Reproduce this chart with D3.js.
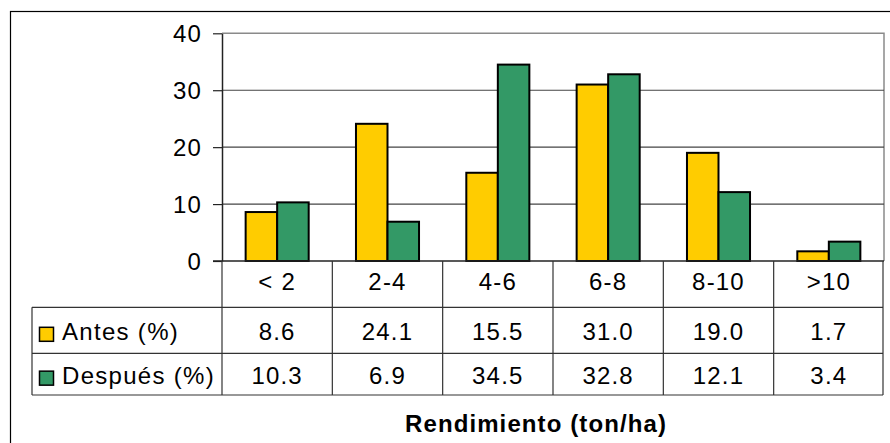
<!DOCTYPE html>
<html>
<head>
<meta charset="utf-8">
<script src="https://cdn.jsdelivr.net/npm/d3@7"></script>
<style>
  body { margin: 0; background: #fff; }
  svg text { font-family: Arial, "Liberation Sans", sans-serif; fill: #000; }
</style>
</head>
<body>
<div id="chart-area"></div>
<script>
var categories = ['< 2', '2-4', '4-6', '6-8', '8-10', '>10'];
var antes = [8.6, 24.1, 15.5, 31.0, 19.0, 1.7];
var despues = [10.3, 6.9, 34.5, 32.8, 12.1, 3.4];
var seriesNames = ['Antes (%)', 'Después (%)'];
var seriesColors = ['#FFCC00', '#339966'];
var yTicks = [0, 10, 20, 30, 40];
var xTitle = 'Rendimiento (ton/ha)';

var W = 890, H = 443;
var plot = { left: 222, right: 884, top: 33.3, bottom: 261 };
var tableLeft = 32;
var rows = [261, 307.3, 353.3, 395]; // category row, antes row, despues row edges

var series = [
    { name: seriesNames[0], values: antes, color: seriesColors[0] },
    { name: seriesNames[1], values: despues, color: seriesColors[1] }
];

var svg = d3.select('#chart-area')
    .append('svg')
    .attr('width', W)
    .attr('height', H);

// outer chart frame (right/bottom edges fall outside the picture)
svg.append('rect')
    .attr('x', 10.5).attr('y', 11.5)
    .attr('width', 900).attr('height', 460)
    .attr('fill', 'none')
    .attr('stroke', '#000')
    .attr('stroke-width', 1.2);

var x = d3.scaleBand()
    .domain(categories)
    .range([plot.left, plot.right])
    .paddingInner(0)
    .paddingOuter(0);

var x1 = d3.scaleBand()
    .domain(d3.range(series.length))
    .range([0, x.bandwidth()])
    .paddingInner(0)
    .paddingOuter(0.75);

var y = d3.scaleLinear()
    .domain([0, 40])
    .range([plot.bottom, plot.top]);

// plot border (top/right gray)
svg.append('path')
    .attr('d', `M${plot.left},${plot.top}H${plot.right}V${plot.bottom}`)
    .attr('fill', 'none')
    .attr('stroke', '#8a8a8a')
    .attr('stroke-width', 1.5);

// gridlines
svg.append('g')
    .selectAll('line')
    .data(yTicks.filter(d => d > 0 && d < 40))
    .join('line')
    .attr('x1', plot.left).attr('x2', plot.right)
    .attr('y1', d => y(d)).attr('y2', d => y(d))
    .attr('stroke', '#444')
    .attr('stroke-width', 1.2);

var fs = '24px';
var ls = '1.2px';

// y axis
var yAxis = svg.append('g')
    .attr('transform', `translate(${plot.left},0)`)
    .call(d3.axisLeft(y).tickValues(yTicks).tickSize(9).tickPadding(11).tickSizeOuter(0));
yAxis.select('.domain').attr('stroke', '#222').attr('stroke-width', 1.5);
yAxis.selectAll('.tick line').attr('stroke', '#222').attr('stroke-width', 1.2);
yAxis.selectAll('.tick text')
    .attr('font-size', fs)
    .attr('letter-spacing', ls)
    .attr('font-family', 'Arial, "Liberation Sans", sans-serif')
    .attr('fill', '#000')
    .attr('dy', '0.35em');

// bars
var groups = svg.append('g')
    .selectAll('g')
    .data(series)
    .join('g')
    .attr('fill', d => d.color);

groups.selectAll('rect')
    .data((s, i) => s.values.map((v, j) => ({ v: v, cat: categories[j], si: i })))
    .join('rect')
    .attr('x', d => x(d.cat) + x1(d.si))
    .attr('y', d => y(d.v))
    .attr('width', x1.bandwidth())
    .attr('height', d => y(0) - y(d.v))
    .attr('stroke', '#000')
    .attr('stroke-width', 2);

// x axis baseline
svg.append('line')
    .attr('x1', plot.left - 9).attr('x2', plot.right)
    .attr('y1', plot.bottom).attr('y2', plot.bottom)
    .attr('stroke', '#222').attr('stroke-width', 1.5);

// data table
var table = svg.append('g');
var lineColor = '#333';

// horizontal table lines
table.selectAll('line.h')
    .data(rows.slice(1))
    .join('line')
    .attr('class', 'h')
    .attr('x1', tableLeft).attr('x2', plot.right - 1)
    .attr('y1', d => d).attr('y2', d => d)
    .attr('stroke', lineColor).attr('stroke-width', 1.2);

// vertical lines at category edges
var edges = categories.map(c => x(c)).concat([plot.right - 1]);
table.selectAll('line.v')
    .data(edges)
    .join('line')
    .attr('class', 'v')
    .attr('x1', d => d).attr('x2', d => d)
    .attr('y1', plot.bottom).attr('y2', rows[3])
    .attr('stroke', lineColor).attr('stroke-width', 1.2);

table.append('line')
    .attr('x1', tableLeft).attr('x2', tableLeft)
    .attr('y1', rows[1]).attr('y2', rows[3])
    .attr('stroke', lineColor).attr('stroke-width', 1.2);

// category labels
table.selectAll('text.cat')
    .data(categories)
    .join('text')
    .attr('class', 'cat')
    .attr('x', d => x(d) + x.bandwidth() / 2)
    .attr('y', (rows[0] + rows[1]) / 2)
    .attr('dy', '0.26em')
    .attr('text-anchor', 'middle')
    .attr('font-size', fs)
    .attr('letter-spacing', ls)
    .text(d => d);

// series rows
series.forEach((s, i) => {
    var cy = (rows[i + 1] + rows[i + 2]) / 2;

    table.append('rect')
        .attr('x', 39.5).attr('y', cy - 3)
        .attr('width', 14).attr('height', 14)
        .attr('fill', s.color)
        .attr('stroke', '#000')
        .attr('stroke-width', 1.5);

    table.append('text')
        .attr('x', 62)
        .attr('y', cy)
        .attr('dy', '0.39em')
        .attr('font-size', fs)
        .attr('letter-spacing', '1.3px')
        .text(s.name);

    table.selectAll('text.val' + i)
        .data(s.values)
        .join('text')
        .attr('class', 'val' + i)
        .attr('x', (d, j) => x(categories[j]) + x.bandwidth() / 2)
        .attr('y', cy)
        .attr('dy', '0.39em')
        .attr('text-anchor', 'middle')
        .attr('font-size', fs)
        .attr('letter-spacing', ls)
        .text(d => d.toFixed(1));
});

// axis title
svg.append('text')
    .attr('x', 536)
    .attr('y', 432)
    .attr('text-anchor', 'middle')
    .attr('font-size', fs)
    .attr('font-weight', 'bold')
    .attr('letter-spacing', '1.1px')
    .text(xTitle);
</script>
</body>
</html>
